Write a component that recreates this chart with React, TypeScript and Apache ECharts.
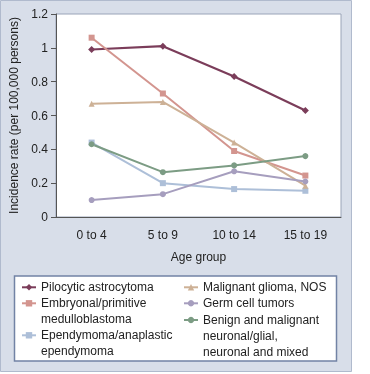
import React, { useEffect, useRef } from "react";
import * as echarts from "echarts";

const categories = ["0 to 4", "5 to 9", "10 to 14", "15 to 19"];
const pilocytic = [0.99, 1.01, 0.83, 0.63];
const embryonal = [1.06, 0.73, 0.39, 0.245];
const malignantGlioma = [0.67, 0.68, 0.44, 0.185];
const ependymoma = [0.44, 0.2, 0.165, 0.155];
const germCell = [0.1, 0.135, 0.27, 0.21];
const neuronalGlial = [0.43, 0.265, 0.305, 0.36];
const yTicks = [0, 0.2, 0.4, 0.6, 0.8, 1, 1.2];

const names = {
  pil: "Pilocytic astrocytoma",
  emb: "Embryonal/primitive\nmedulloblastoma",
  epe: "Ependymoma/anaplastic\nependymoma",
  mal: "Malignant glioma, NOS",
  germ: "Germ cell tumors",
  ben: "Benign and malignant\nneuronal/glial,\nneuronal and mixed",
};

const FONT = "'Liberation Sans', Arial, Helvetica, sans-serif";
const LH = 16;

function legendFor(name: string, lines: number, left: number, centerY: number) {
  const outer = (2 * lines - 1) * LH;
  const pad = " \n".repeat(lines - 1);
  return {
    show: true,
    orient: "vertical",
    left,
    top: centerY - outer / 2,
    padding: 0,
    itemWidth: 14,
    itemHeight: 8,
    itemGap: 0,
    selectedMode: false,
    formatter: (n: string) => pad + n,
    textStyle: {
      fontFamily: FONT,
      fontSize: 12,
      lineHeight: LH,
      color: "#222",
    },
    data: [{ name }],
  };
}

export default function App() {
  const ref = useRef<HTMLDivElement>(null);
  useEffect(() => {
    if (!ref.current) return;
    const chart = echarts.init(ref.current, null, { renderer: "svg" });
    const mk = (name: string, data: number[], color: string, symbol: string, width = 2) => ({
      name,
      type: "line",
      data,
      symbol,
      symbolSize: symbol === "diamond" ? 7 : 6,
      showSymbol: true,
      itemStyle: { color },
      lineStyle: { color, width },
    });
    chart.setOption({
      animation: false,
      textStyle: { fontFamily: FONT },
      graphic: [
        {
          type: "rect",
          z: -10,
          shape: { x: 0.5, y: 0.5, width: 351, height: 371 },
          style: { fill: "#d8dee9", stroke: "#b0bacd", lineWidth: 1 },
        },
        {
          type: "rect",
          z: -5,
          shape: { x: 14.5, y: 276, width: 322, height: 85 },
          style: { fill: "#ffffff", stroke: "#7283a5", lineWidth: 1.5 },
        },
      ],
      grid: {
        left: 56,
        right: 29,
        top: 14,
        bottom: 157,
        show: true,
        backgroundColor: "#ffffff",
        borderColor: "#9aa4b8",
        borderWidth: 1,
      },
      legend: [
        legendFor(names.pil, 1, 21, 287.3),
        legendFor(names.emb, 2, 21, 303.3),
        legendFor(names.epe, 2, 21, 335.3),
        legendFor(names.mal, 1, 183, 287.3),
        legendFor(names.germ, 1, 183, 303.3),
        legendFor(names.ben, 3, 183, 320),
      ],
      xAxis: {
        type: "category",
        data: categories,
        boundaryGap: true,
        name: "Age group",
        nameLocation: "middle",
        nameGap: 34,
        nameTextStyle: { fontSize: 12, color: "#222", fontFamily: FONT },
        axisLine: { lineStyle: { color: "#555", width: 1 } },
        axisTick: { alignWithLabel: true, length: 5, lineStyle: { color: "#555" } },
        axisLabel: { margin: 12, fontSize: 12, color: "#222", fontFamily: FONT },
        splitLine: { show: false },
      },
      yAxis: {
        type: "value",
        min: yTicks[0],
        max: yTicks[yTicks.length - 1],
        interval: 0.2,
        name: "Incidence rate (per 100,000 persons)",
        nameLocation: "middle",
        nameGap: 36,
        nameTextStyle: { fontSize: 12, color: "#222", fontFamily: FONT },
        axisLine: { show: true, lineStyle: { color: "#555", width: 1 } },
        axisTick: { show: true, length: 5, lineStyle: { color: "#555" } },
        axisLabel: { margin: 8, fontSize: 12, color: "#222", fontFamily: FONT },
        splitLine: { show: false },
      },
      series: [
        mk(names.pil, pilocytic, "#7b3d5a", "diamond", 2.2),
        mk(names.emb, embryonal, "#d3958f", "rect"),
        mk(names.epe, ependymoma, "#adbfd8", "rect"),
        mk(names.mal, malignantGlioma, "#cdb196", "triangle"),
        mk(names.germ, germCell, "#a69ebe", "circle"),
        mk(names.ben, neuronalGlial, "#7c9c84", "circle"),
      ],
    });
    return () => chart.dispose();
  }, []);
  return (
    <div
      ref={ref}
      style={{ position: "fixed", left: 0, top: 0, width: 370, height: 374 }}
    />
  );
}
